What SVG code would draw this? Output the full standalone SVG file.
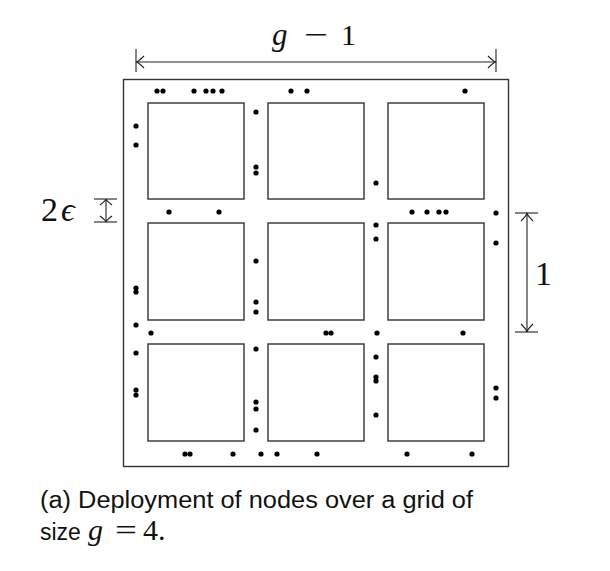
<svg xmlns="http://www.w3.org/2000/svg" width="610" height="571" viewBox="0 0 610 571">
<style>
.box{fill:none;stroke:#333;stroke-width:1.4}
.dim{fill:none;stroke:#222;stroke-width:1.1}
.dot{fill:#000}
.math{font-family:"Liberation Serif","DejaVu Serif",serif;fill:#111}
.cap{font-family:"Liberation Sans","DejaVu Sans",sans-serif;font-size:23px;fill:#111}
</style>
<rect width="610" height="571" fill="#fff"/>
<g id="outer"><rect class="box" x="123.5" y="79.5" width="385" height="387"/></g>
<g id="cells">
<rect class="box" x="148" y="103" width="96" height="96"/>
<rect class="box" x="268" y="103" width="96" height="96"/>
<rect class="box" x="388" y="103" width="96" height="96"/>
<rect class="box" x="148" y="223" width="96" height="97"/>
<rect class="box" x="268" y="223" width="96" height="97"/>
<rect class="box" x="388" y="223" width="96" height="97"/>
<rect class="box" x="148" y="344" width="96" height="97"/>
<rect class="box" x="268" y="344" width="96" height="97"/>
<rect class="box" x="388" y="344" width="96" height="97"/>
</g>
<g id="nodes" class="dot">
<circle cx="157" cy="91" r="2.6"/><circle cx="163" cy="91" r="2.6"/><circle cx="194" cy="91" r="2.6"/><circle cx="206" cy="91" r="2.6"/><circle cx="213" cy="91" r="2.6"/><circle cx="222" cy="91" r="2.6"/><circle cx="291" cy="91" r="2.6"/><circle cx="307" cy="91" r="2.6"/><circle cx="465" cy="91" r="2.6"/>
<circle cx="136" cy="126" r="2.6"/><circle cx="136" cy="145" r="2.6"/><circle cx="136" cy="288" r="2.6"/><circle cx="136" cy="292" r="2.6"/><circle cx="136" cy="325" r="2.6"/><circle cx="136" cy="353" r="2.6"/><circle cx="136" cy="390" r="2.6"/><circle cx="136" cy="395" r="2.6"/>
<circle cx="151" cy="333" r="2.6"/>
<circle cx="256" cy="112" r="2.6"/><circle cx="256" cy="167" r="2.6"/><circle cx="256" cy="173" r="2.6"/><circle cx="256" cy="261" r="2.6"/><circle cx="256" cy="302" r="2.6"/><circle cx="256" cy="312" r="2.6"/><circle cx="256" cy="349" r="2.6"/><circle cx="256" cy="402" r="2.6"/><circle cx="256" cy="409" r="2.6"/><circle cx="256" cy="430" r="2.6"/>
<circle cx="169" cy="212" r="2.6"/><circle cx="219" cy="212" r="2.6"/><circle cx="412" cy="212" r="2.6"/><circle cx="427" cy="212" r="2.6"/><circle cx="439" cy="212" r="2.6"/><circle cx="446" cy="212" r="2.6"/>
<circle cx="376" cy="183" r="2.6"/><circle cx="376" cy="225" r="2.6"/><circle cx="376" cy="239" r="2.6"/><circle cx="376" cy="357" r="2.6"/><circle cx="376" cy="377" r="2.6"/><circle cx="376" cy="381" r="2.6"/><circle cx="376" cy="415" r="2.6"/>
<circle cx="326" cy="333" r="2.6"/><circle cx="331" cy="333" r="2.6"/><circle cx="377" cy="333" r="2.6"/><circle cx="463" cy="333" r="2.6"/>
<circle cx="496" cy="213" r="2.6"/><circle cx="496" cy="243" r="2.6"/><circle cx="496" cy="388" r="2.6"/><circle cx="496" cy="398" r="2.6"/>
<circle cx="185" cy="454" r="2.6"/><circle cx="190" cy="454" r="2.6"/><circle cx="233" cy="454" r="2.6"/><circle cx="261" cy="454" r="2.6"/><circle cx="277" cy="454" r="2.6"/><circle cx="317" cy="454" r="2.6"/><circle cx="407" cy="454" r="2.6"/><circle cx="472" cy="454" r="2.6"/>
</g>
<g id="connectors">
<g id="dim-top" class="dim">
<line x1="136" y1="49" x2="136" y2="72"/><line x1="496" y1="49" x2="496" y2="72"/>
<line x1="136" y1="62" x2="496" y2="62"/>
<path d="M144,56 Q139,61 136.5,62 Q139,63 144,68"/>
<path d="M488,56 Q493,61 495.5,62 Q493,63 488,68"/>
</g>
<g id="dim-right" class="dim">
<line x1="515" y1="213" x2="538" y2="213"/><line x1="515" y1="332" x2="538" y2="332"/>
<line x1="527" y1="213" x2="527" y2="332"/>
<path d="M521,221 Q526,216 527,213.5 Q528,216 533,221"/>
<path d="M521,324 Q526,329 527,331.5 Q528,329 533,324"/>
</g>
<g id="dim-left" class="dim">
<line x1="94" y1="199" x2="117" y2="199"/><line x1="94" y1="222" x2="117" y2="222"/>
<line x1="106" y1="199" x2="106" y2="222"/>
<path d="M100,205 Q105,201 106,199.5 Q107,201 112,205"/>
<path d="M100,216 Q105,220 106,221.5 Q107,220 112,216"/>
</g>
</g>
<g id="labels">
<text class="math" font-size="31" x="272" y="45" font-style="italic">g</text>
<text class="math" font-size="31" x="304" y="45" textLength="24" lengthAdjust="spacingAndGlyphs">−</text>
<text class="math" font-size="30" x="341" y="45">1</text>
<text class="math" font-size="34" x="41" y="221">2</text>
<text class="math" font-size="34" x="61" y="221" font-style="italic">ϵ</text>
<text class="math" font-size="34" x="535" y="285">1</text>
<text class="cap" x="40" y="508" textLength="433" lengthAdjust="spacingAndGlyphs">(a) Deployment of nodes over a grid of</text>
<text class="cap" x="40" y="540">size</text>
<text class="math" font-size="30" x="88" y="540" font-style="italic">g</text>
<text class="math" font-size="30" x="115" y="540" textLength="22" lengthAdjust="spacingAndGlyphs">=</text>
<text class="math" font-size="30" x="143" y="540">4.</text>
</g>
</svg>
